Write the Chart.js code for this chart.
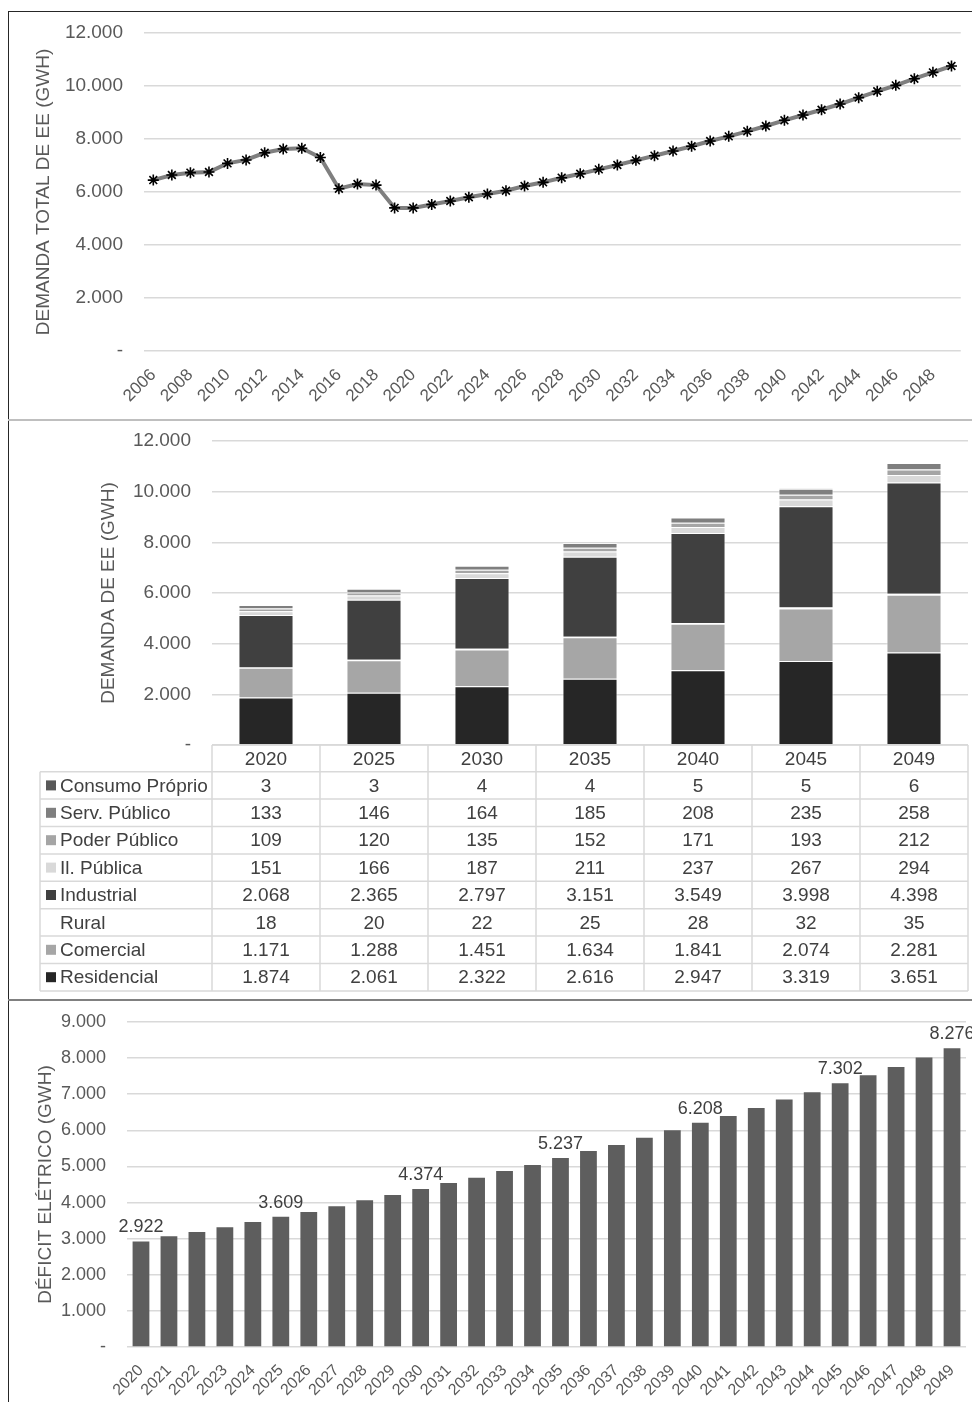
<!DOCTYPE html>
<html lang="pt-BR">
<head>
<meta charset="utf-8">
<title>Demanda e déficit de energia elétrica</title>
<script src="https://cdn.jsdelivr.net/npm/chart.js@4.4.1/dist/chart.umd.min.js"></script>
<style>
  body { margin: 0; background: #fff; width: 972px; height: 1402px; position: relative; overflow: hidden; }
  .panel { position: absolute; left: 9px; width: 963px; }
  .rule { position: absolute; }
</style>
</head>
<body>
<!-- moldura dos três quadros -->
<div class="rule" style="left:8px;top:11px;width:1px;height:1391px;background:#262626"></div>
<div class="rule" style="left:8px;top:11px;width:964px;height:1px;background:#262626"></div>
<div class="rule" style="left:8px;top:419px;width:964px;height:2px;background:#bfbfbf"></div>
<div class="rule" style="left:8px;top:999px;width:964px;height:2px;background:#808080"></div>

<div class="panel" style="top:12px;height:407px"><canvas id="total-chart" width="963" height="407"></canvas></div>
<div class="panel" style="top:421px;height:578px"><canvas id="sector-chart" width="963" height="578"></canvas></div>
<div class="panel" style="top:1001px;height:401px"><canvas id="deficit-chart" width="963" height="401"></canvas></div>

<script>
// Demanda total de EE (GWh), 2006-2049
const totalYears = ['2006', '2007', '2008', '2009', '2010', '2011', '2012', '2013', '2014', '2015',
  '2016', '2017', '2018', '2019', '2020', '2021', '2022', '2023', '2024', '2025',
  '2026', '2027', '2028', '2029', '2030', '2031', '2032', '2033', '2034', '2035',
  '2036', '2037', '2038', '2039', '2040', '2041', '2042', '2043', '2044', '2045',
  '2046', '2047', '2048', '2049'];
const totalDemand = [6450, 6640, 6730, 6755, 7080, 7210, 7480, 7620, 7650, 7300,
  6125, 6300, 6260, 5400, 5400, 5530, 5660, 5800, 5925, 6050,
  6225, 6365, 6540, 6690, 6855, 7020, 7195, 7370, 7545, 7725,
  7925, 8100, 8290, 8490, 8705, 8905, 9105, 9320, 9560, 9800,
  10025, 10275, 10515, 10755];

// Demanda de EE por classe de consumo (GWh)
const sectorYears = ['2020', '2025', '2030', '2035', '2040', '2045', '2049'];
const residencial = [1874, 2061, 2322, 2616, 2947, 3319, 3651];
const comercial = [1171, 1288, 1451, 1634, 1841, 2074, 2281];
const rural = [18, 20, 22, 25, 28, 32, 35];
const industrial = [2068, 2365, 2797, 3151, 3549, 3998, 4398];
const ilPublica = [151, 166, 187, 211, 237, 267, 294];
const poderPublico = [109, 120, 135, 152, 171, 193, 212];
const servPublico = [133, 146, 164, 185, 208, 235, 258];
const consumoProprio = [3, 3, 4, 4, 5, 5, 6];

// Déficit elétrico (GWh), 2020-2049
const deficitYears = ['2020', '2021', '2022', '2023', '2024', '2025', '2026', '2027', '2028', '2029',
  '2030', '2031', '2032', '2033', '2034', '2035', '2036', '2037', '2038', '2039',
  '2040', '2041', '2042', '2043', '2044', '2045', '2046', '2047', '2048', '2049'];
const deficit = [2922, 3066, 3186, 3315, 3463, 3609, 3740, 3897, 4063, 4210,
  4374, 4543, 4690, 4875, 5041, 5237, 5429, 5596, 5798, 6002,
  6208, 6399, 6620, 6851, 7055, 7302, 7526, 7756, 8014, 8276];
const labeledYears = ['2020', '2025', '2030', '2035', '2040', '2045', '2049'];

const FONT = "'Liberation Sans', Arial, sans-serif";
const TEXT = '#595959';
const GRID = '#d9d9d9';

Chart.defaults.font.family = FONT;
Chart.defaults.color = TEXT;
Chart.defaults.animation = false;
Chart.defaults.plugins.legend.display = false;
Chart.defaults.plugins.tooltip.enabled = false;

// 1.234 -> "1.234", 0 -> "-"
function fmt(v) {
  if (v === 0) return '-';
  return String(v).replace(/\B(?=(\d{3})+(?!\d))/g, '.');
}

function yAxis(max, step, title, tickSize, width) {
  return {
    min: 0,
    max: max,
    ticks: { stepSize: step, padding: 21, color: TEXT, font: { size: tickSize }, callback: v => fmt(v) },
    grid: { color: GRID, lineWidth: 1.5, drawTicks: false },
    border: { display: false },
    title: { display: true, text: title, color: TEXT, font: { size: 19 } },
    afterFit(scale) {
      scale.width = width;
      // o padding dos rótulos não deve empurrar a área do gráfico
      scale.paddingTop = 11;
      scale.paddingBottom = 11;
    }
  };
}

// gráfico 1: linha
new Chart(document.getElementById('total-chart'), {
  type: 'line',
  data: {
    labels: totalYears,
    datasets: [{
      data: totalDemand,
      borderColor: '#7f7f7f',
      borderWidth: 4,
      pointStyle: 'star',
      pointRadius: 5.5,
      pointBorderColor: '#000',
      pointBorderWidth: 1.6,
      pointBackgroundColor: '#000',
      tension: 0
    }]
  },
  options: {
    responsive: false,
    layout: { padding: { left: 19, right: 8, top: 21, bottom: 0 } },
    scales: {
      x: {
        offset: true,
        grid: { display: false },
        border: { display: false },
        ticks: {
          autoSkip: false, minRotation: 45, maxRotation: 45, padding: 6,
          color: TEXT, font: { size: 17 },
          callback(v, i) { return i % 2 === 0 ? this.getLabelForValue(v) : ''; }
        },
        afterFit(scale) { scale.height = 68; }
      },
      y: yAxis(12000, 2000, 'DEMANDA TOTAL DE EE (GWH)', 19, 116)
    }
  }
});

// tabela de dados desenhada sob o gráfico de barras empilhadas
const dataTablePlugin = {
  id: 'dataTable',
  afterDraw(chart) {
    const { ctx, chartArea } = chart;
    const xScale = chart.scales.x;
    const colW = (chartArea.right - chartArea.left) / sectorYears.length;
    const headerTop = chartArea.bottom;
    const headerH = 26.7;
    const rowH = 27.4;
    const tableLeft = 31;
    const rows = chart.data.datasets.slice().reverse();
    const bottom = headerTop + headerH + rows.length * rowH;

    ctx.save();
    ctx.strokeStyle = GRID;
    ctx.lineWidth = 1.5;
    ctx.beginPath();
    ctx.moveTo(chartArea.left, headerTop);
    ctx.lineTo(chartArea.right, headerTop);
    for (let r = 0; r <= rows.length; r++) {
      const y = headerTop + headerH + r * rowH;
      ctx.moveTo(tableLeft, y);
      ctx.lineTo(chartArea.right, y);
    }
    ctx.moveTo(tableLeft, headerTop + headerH);
    ctx.lineTo(tableLeft, bottom);
    for (let c = 0; c <= sectorYears.length; c++) {
      const x = chartArea.left + c * colW;
      ctx.moveTo(x, headerTop);
      ctx.lineTo(x, bottom);
    }
    ctx.stroke();

    ctx.font = '19px ' + FONT;
    ctx.fillStyle = '#404040';
    ctx.textBaseline = 'middle';
    ctx.textAlign = 'center';
    sectorYears.forEach((year, i) => {
      ctx.fillText(year, xScale.getPixelForValue(i), headerTop + headerH / 2 + 1);
    });

    rows.forEach((ds, r) => {
      const cy = headerTop + headerH + r * rowH + rowH / 2 + 1;
      if (ds.backgroundColor !== '#ffffff') {
        ctx.fillStyle = ds.backgroundColor;
        ctx.fillRect(tableLeft + 6, cy - 6, 10, 10);
      }
      ctx.fillStyle = '#404040';
      ctx.textAlign = 'left';
      ctx.fillText(ds.label, tableLeft + 20, cy);
      ctx.textAlign = 'center';
      ds.data.forEach((v, i) => {
        ctx.fillText(fmt(v), xScale.getPixelForValue(i), cy);
      });
    });
    ctx.restore();
  }
};

function sectorSet(label, data, color) {
  return {
    label: label,
    data: data,
    backgroundColor: color,
    borderColor: 'rgba(255,255,255,0.6)',
    borderWidth: 1,
    barPercentage: 0.51,
    categoryPercentage: 1
  };
}

// gráfico 2: barras empilhadas + tabela
new Chart(document.getElementById('sector-chart'), {
  type: 'bar',
  data: {
    labels: sectorYears,
    datasets: [
      sectorSet('Residencial', residencial, '#262626'),
      sectorSet('Comercial', comercial, '#a6a6a6'),
      sectorSet('Rural', rural, '#ffffff'),
      sectorSet('Industrial', industrial, '#404040'),
      sectorSet('Il. Pública', ilPublica, '#d9d9d9'),
      sectorSet('Poder Público', poderPublico, '#a5a5a5'),
      sectorSet('Serv. Público', servPublico, '#7f7f7f'),
      sectorSet('Consumo Próprio', consumoProprio, '#595959')
    ]
  },
  options: {
    responsive: false,
    layout: { padding: { left: 84, right: 4, top: 20, bottom: 254 } },
    scales: {
      x: { stacked: true, display: false },
      y: Object.assign(yAxis(12000, 2000, 'DEMANDA DE EE (GWH)', 19, 119), { stacked: true })
    }
  },
  plugins: [dataTablePlugin]
});

// rótulos de valor em alguns anos
const valueLabelPlugin = {
  id: 'valueLabels',
  afterDatasetsDraw(chart) {
    const { ctx } = chart;
    const meta = chart.getDatasetMeta(0);
    ctx.save();
    ctx.font = '18px ' + FONT;
    ctx.fillStyle = '#404040';
    ctx.textAlign = 'center';
    ctx.textBaseline = 'alphabetic';
    labeledYears.forEach(year => {
      const i = deficitYears.indexOf(year);
      const bar = meta.data[i];
      ctx.fillText(fmt(deficit[i]), bar.x, bar.y - 9);
    });
    ctx.restore();
  }
};

// gráfico 3: barras
new Chart(document.getElementById('deficit-chart'), {
  type: 'bar',
  data: {
    labels: deficitYears,
    datasets: [{
      data: deficit,
      backgroundColor: '#5e5e5e',
      barPercentage: 0.6,
      categoryPercentage: 1
    }]
  },
  options: {
    responsive: false,
    layout: { padding: { left: 21, right: 6, top: 21, bottom: 0 } },
    scales: {
      x: {
        grid: { display: false },
        border: { display: false },
        ticks: { autoSkip: false, minRotation: 45, maxRotation: 45, padding: 6, color: TEXT, font: { size: 16 } },
        afterFit(scale) { scale.height = 55; }
      },
      y: yAxis(9000, 1000, 'DÉFICIT ELÉTRICO (GWH)', 18, 97)
    }
  },
  plugins: [valueLabelPlugin]
});
</script>
</body>
</html>
